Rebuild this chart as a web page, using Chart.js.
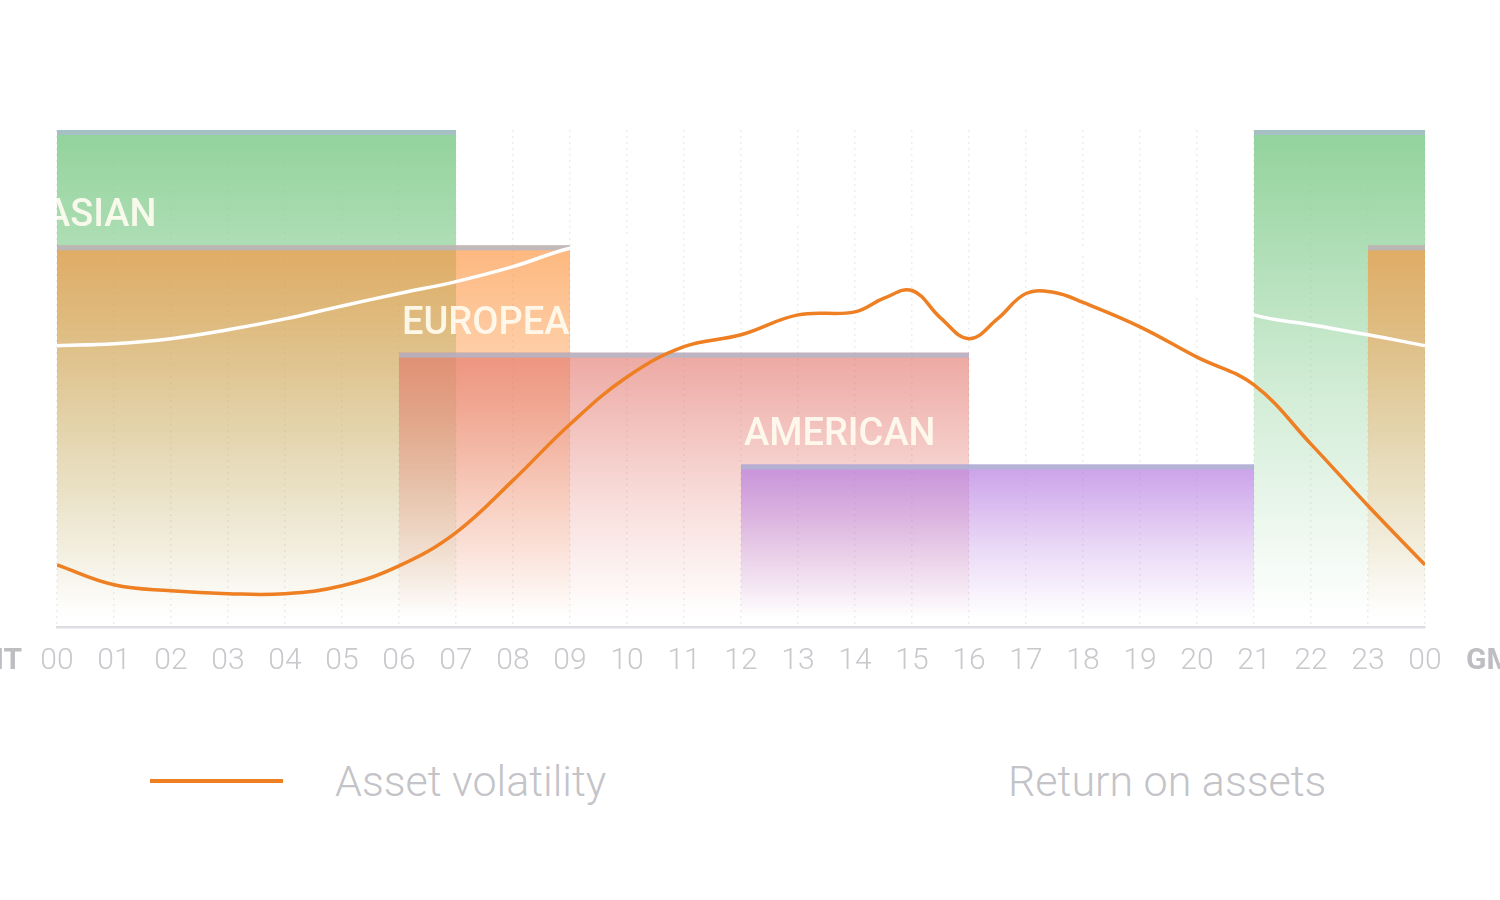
<!DOCTYPE html>
<html>
<head>
<meta charset="utf-8">
<title>Trading sessions</title>
<script src="https://cdn.jsdelivr.net/npm/chart.js@4.4.1/dist/chart.umd.min.js"></script>
<style>
  html, body { margin: 0; padding: 0; background: #fff; }
  #wrap { position: relative; width: 1500px; height: 900px; overflow: hidden; }
  #chart-box { position: absolute; left: 0; top: 0; width: 1500px; height: 720px; }
  #legend { position: absolute; left: 150px; top: 753px; display: flex; }
  .item { display: flex; align-items: center; width: 673px; height: 56px; }
  .swatch { width: 133px; height: 4px; margin-right: 52px; }
  .label { font-family: Roboto, sans-serif; font-weight: 300; font-size: 43px; color: #c3c3c8; }
</style>
</head>
<body>
<div id="wrap">
  <div id="chart-box"><canvas id="sessionsChart"></canvas></div>
  <div id="legend"></div>
</div>
<script>
// hours of the day (GMT)
const hours = [0, 1, 2, 3, 4, 5, 6, 7, 8, 9, 10, 11, 12, 13, 14, 15, 16, 17, 18, 19, 20, 21, 22, 23, 24];
const hourLabels = ['00', '01', '02', '03', '04', '05', '06', '07', '08', '09', '10', '11', '12',
                    '13', '14', '15', '16', '17', '18', '19', '20', '21', '22', '23', '00'];

// Asset volatility (orange line), extra points around the afternoon bumps
const volHours  = [0, 1, 2, 3, 4, 5, 6, 7, 8, 9, 10, 11, 12, 13, 14, 14.5, 15, 15.5, 16, 16.5, 17, 17.5, 18, 19, 20, 21, 22, 23, 24];
const volValues = [12.5, 8.5, 7.3, 6.7, 6.7, 8.3, 12.3, 19.0, 29.5, 40.8, 50.3, 56.4, 58.8, 62.8, 63.4, 66.1, 67.7, 62.2, 58.0, 62.0, 67.1, 67.3, 65.3, 60.4, 54.3, 48.7, 36.8, 24.4, 12.5];

// Return on assets (white line, only visible over the session blocks)
const roaValues = [56.6, 57.0, 58.0, 59.8, 62.0, 64.6, 67.1, 69.5, 72.5, 76.2, 78.2, 79.8, 81.0,
                   81.8, 82.0, 81.4, 80.2, 78.2, 75.4, 71.7, 67.3, 62.8, 60.8, 58.8, 56.6];

// market sessions: start hour, end hour (wraps past midnight when start > end), block height
const sessionNames = ['', 'ASIAN', 'EUROPEAN', 'AMERICAN'];
const sessionStart = [21, 23, 6, 12];
const sessionEnd   = [7, 9, 16, 21];
const sessionLevel = [100, 76.8, 55.2, 32.7];

// block colours [r, g, b, alpha at top]
const sessionColors = [
    [140, 208, 150, 0.95], // green
    [252, 145, 57, 0.65],  // orange
    [225, 110, 100, 0.6],  // red
    [180, 120, 225, 0.7]   // purple
];

// split a session into pieces inside 0..24
function sessionRanges(i) {
    const s = sessionStart[i], e = sessionEnd[i];
    if (s < e) return [[s, e]];
    return [[0, e], [s, 24]];
}

const sessionsPlugin = {
    id: 'sessions',
    beforeDatasetsDraw(chart) {
        const ctx = chart.ctx;
        const area = chart.chartArea;
        const x = chart.scales.x;
        const y = chart.scales.y;

        ctx.save();
        ctx.beginPath();
        ctx.rect(area.left, area.top - 1, area.right - area.left, area.bottom - area.top + 1);
        ctx.clip();

        // blocks
        sessionNames.forEach((name, i) => {
            const top = y.getPixelForValue(sessionLevel[i]);
            const c = sessionColors[i];
            const grad = ctx.createLinearGradient(0, top, 0, area.bottom - 10);
            grad.addColorStop(0, `rgba(${c[0]},${c[1]},${c[2]},${c[3]})`);
            grad.addColorStop(0.55, `rgba(${c[0]},${c[1]},${c[2]},${c[3] * 0.4})`);
            grad.addColorStop(1, `rgba(${c[0]},${c[1]},${c[2]},0)`);

            sessionRanges(i).forEach(r => {
                const x0 = x.getPixelForValue(r[0]);
                const x1 = x.getPixelForValue(r[1]);
                ctx.fillStyle = grad;
                ctx.fillRect(x0, top, x1 - x0, area.bottom - top);
                // thin grey cap on top of each block
                ctx.fillStyle = 'rgba(172, 186, 208, 0.75)';
                ctx.fillRect(x0, top, x1 - x0, 5);
            });
        });

        // labels, sitting just above their own block, clipped to the block above
        sessionNames.forEach((name, i) => {
            if (!name || i === 0) return;
            const top = y.getPixelForValue(sessionLevel[i]);
            let start = sessionStart[i];
            if (start > sessionEnd[i]) start -= 24;
            const lx = Math.max(x.getPixelForValue(start) + 3, area.left - 12);

            ctx.save();
            ctx.beginPath();
            sessionRanges(i - 1).forEach(r => {
                const x0 = x.getPixelForValue(r[0]);
                const x1 = x.getPixelForValue(r[1]);
                ctx.rect(x0, area.top, x1 - x0, area.bottom - area.top);
            });
            ctx.clip();
            ctx.fillStyle = 'rgba(255, 252, 240, 0.92)';
            ctx.font = '500 38px Roboto';
            ctx.textAlign = 'left';
            ctx.textBaseline = 'alphabetic';
            ctx.fillText(name, lx, top - 19);
            ctx.restore();
        });

        ctx.restore();
    },
    afterDraw(chart) {
        // "GMT" at both ends of the hour axis, partly outside the canvas
        const ctx = chart.ctx;
        const x = chart.scales.x;
        const ty = x.top + 16 + 18;
        ctx.save();
        ctx.fillStyle = '#bdbdc2';
        ctx.font = 'bold 30px Roboto';
        ctx.textBaseline = 'middle';
        ctx.textAlign = 'right';
        ctx.fillText('GMT', x.getPixelForValue(0) - 35, ty);
        ctx.textAlign = 'left';
        ctx.fillText('GMT', x.getPixelForValue(24) + 41, ty);
        ctx.restore();
    }
};

const ctx = document.getElementById('sessionsChart').getContext('2d');
const chart = new Chart(ctx, {
    type: 'line',
    data: {
        datasets: [
            {
                label: 'Asset volatility',
                data: volHours.map((h, i) => ({ x: h, y: volValues[i] })),
                borderColor: '#ee7f22',
                borderWidth: 3.5,
                pointRadius: 0,
                tension: 0.4
            },
            {
                label: 'Return on assets',
                data: hours.map((h, i) => ({ x: h, y: roaValues[i] })),
                borderColor: '#ffffff',
                borderWidth: 3.5,
                pointRadius: 0,
                tension: 0.4
            }
        ]
    },
    options: {
        responsive: true,
        maintainAspectRatio: false,
        animation: false,
        layout: {
            padding: { left: 57, right: 75, top: 130, bottom: 25 }
        },
        plugins: {
            legend: { display: false },
            tooltip: { enabled: false }
        },
        scales: {
            x: {
                type: 'linear',
                min: 0,
                max: 24,
                ticks: {
                    stepSize: 1,
                    padding: 16,
                    color: '#c8c8cd',
                    font: { family: 'Roboto', size: 30, weight: 300 },
                    maxRotation: 0,
                    autoSkip: false,
                    callback: value => hourLabels[value]
                },
                grid: {
                    color: 'rgba(0, 0, 0, 0.07)',
                    lineWidth: 1.5,
                    drawTicks: false
                },
                border: {
                    color: '#dedee2',
                    width: 2.5,
                    dash: [2, 4]
                }
            },
            y: {
                display: false,
                min: 0,
                max: 100
            }
        }
    },
    plugins: [sessionsPlugin]
});

// simple html legend below the chart
const legend = document.getElementById('legend');
chart.data.datasets.forEach(ds => {
    const item = document.createElement('div');
    item.className = 'item';
    const sw = document.createElement('div');
    sw.className = 'swatch';
    sw.style.background = ds.borderColor;
    const txt = document.createElement('span');
    txt.className = 'label';
    txt.textContent = ds.label;
    item.appendChild(sw);
    item.appendChild(txt);
    legend.appendChild(item);
});
</script>
</body>
</html>
